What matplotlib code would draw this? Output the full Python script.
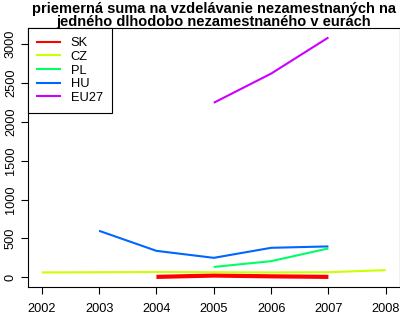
import matplotlib
matplotlib.use("Agg")
import matplotlib.pyplot as plt
from matplotlib.lines import Line2D

plt.rcParams['font.family'] = ['Liberation Sans', 'DejaVu Sans']

years_sk = [2004, 2005, 2006, 2007]
sk = [5, 22, 12, 5]
years_cz = [2002, 2003, 2004, 2005, 2006, 2007, 2008]
cz = [62, 65, 68, 65, 62, 65, 92]
years_pl = [2005, 2006, 2007]
pl = [133, 207, 371]
years_hu = [2003, 2004, 2005, 2006, 2007]
hu = [598, 340, 250, 379, 397]
years_eu = [2005, 2006, 2007]
eu27 = [2245, 2620, 3085]

labels = ["SK", "CZ", "PL", "HU", "EU27"]
colors = ["#FF0000", "#CCFF00", "#00FF66", "#0066FF", "#CC00FF"]
widths = [3.0, 1.5, 1.5, 1.5, 1.5]
xticks = [2002, 2003, 2004, 2005, 2006, 2007, 2008]
yticks = [0, 500, 1000, 1500, 2000, 2500, 3000]
title = "priemerná suma na vzdelávanie nezamestnaných na\njedného dlhodobo nezamestnaného v eurách"

fig = plt.figure(figsize=(4.0, 3.15), dpi=100)
ax = fig.add_axes([28/400, 1-286.6/315, 371.5/400, (286.6-28)/315])

series = [(years_sk, sk), (years_cz, cz), (years_pl, pl), (years_hu, hu), (years_eu, eu27)]
for (x, y), c, w in zip(series, colors, widths):
    ax.plot(x, y, color=c, lw=w, solid_capstyle='butt')

ax.set_xlim(2001.76, 2008.24)
ax.set_ylim(-120, 3207)
ax.set_xticks(xticks)
ax.set_xticklabels([str(t) for t in xticks])
ax.set_yticks(yticks)
ax.set_yticklabels([str(t) for t in yticks], rotation=90, va='center')
ax.tick_params(axis='both', direction='out', length=5, width=0.8, labelsize=9.2, colors='black')
ax.tick_params(axis='x', pad=6.5)
ax.tick_params(axis='y', pad=3)
for s in ax.spines.values():
    s.set_linewidth(0.8)

fig.text(214/400, 1-2/315, title, ha='center', va='top', fontsize=10.5, fontweight='bold', linespacing=0.95)

handles = [Line2D([0], [0], color=c, lw=1.5) for c in colors]
leg = ax.legend(handles, labels, loc='upper left', bbox_to_anchor=(0, 1), borderaxespad=0,
                fancybox=False, edgecolor='black', fontsize=9.3, handlelength=1.75,
                handletextpad=0.85, labelspacing=0.13, borderpad=0.7, framealpha=1)
leg.get_frame().set_linewidth(0.8)

fig.savefig("out.png", dpi=100)
